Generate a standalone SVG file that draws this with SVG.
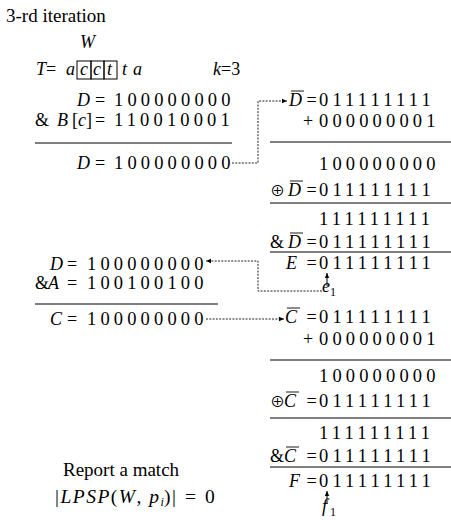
<svg xmlns="http://www.w3.org/2000/svg" width="451" height="520" viewBox="0 0 451 520">
<style>
text{font-family:"Liberation Serif","DejaVu Serif",serif;font-size:18px;fill:#000}
.i{font-style:italic}
.d{font-size:18.5px;letter-spacing:4.15px}
.s{font-size:12px}
.big{font-size:19px}
.op{font-family:"Noto Sans CJK JP","DejaVu Sans",sans-serif;font-size:15px}
.rule{stroke:#000;stroke-width:1.1}
.ov{stroke:#000;stroke-width:0.9}
.dot{fill:none;stroke:#222;stroke-width:1;stroke-dasharray:2 1.3}
.arr{fill:none;stroke:#000;stroke-width:1}
.box{fill:none;stroke:#000;stroke-width:1}
</style>
<defs>
<marker id="ah" markerWidth="6" markerHeight="6" refX="5" refY="3" orient="auto" markerUnits="userSpaceOnUse"><path d="M0,0.8 L5,3 L0,5.2z" fill="#000"/></marker>
</defs>

<g id="title"><text class="big" x="6" y="22">3-rd iteration</text></g>

<g id="header">
<text class="i" x="80" y="48">W</text>
<text x="36" y="75"><tspan class="i">T</tspan>=</text>
<text class="i" x="66" y="75">a</text>
<rect class="box" x="77" y="61" width="14" height="18"/>
<rect class="box" x="91" y="61" width="13" height="18"/>
<rect class="box" x="104" y="61" width="13" height="18"/>
<text class="i" x="80" y="75">c</text>
<text class="i" x="93" y="75">c</text>
<text class="i" x="107" y="75">t</text>
<text class="i" x="122" y="75">t</text>
<text class="i" x="133" y="75">a</text>
<text x="213" y="75"><tspan class="i">k</tspan>=3</text>
</g>

<g id="left-top">
<text x="77" y="106"><tspan class="i">D</tspan><tspan x="95">=</tspan></text>
<text class="d" x="114" y="106">100000000</text>
<text x="35" y="126">&amp;<tspan class="i" x="57">B</tspan><tspan x="72">[</tspan><tspan class="i" x="78">c</tspan><tspan x="86">]</tspan><tspan x="95">=</tspan></text>
<text class="d" x="114" y="126">110010001</text>
<line class="rule" x1="35" y1="143" x2="232" y2="143"/>
<text x="77" y="169"><tspan class="i">D</tspan><tspan x="95">=</tspan></text>
<text class="d" x="114" y="169">100000000</text>
</g>

<g id="left-mid">
<text x="50" y="270"><tspan class="i">D</tspan><tspan x="67">=</tspan></text>
<text class="d" x="87" y="270">100000000</text>
<text x="35" y="289">&amp;<tspan class="i" x="48">A</tspan><tspan x="67">=</tspan></text>
<text class="d" x="87" y="289">100100100</text>
<line class="rule" x1="35" y1="304" x2="218" y2="304"/>
<text x="50" y="325"><tspan class="i">C</tspan><tspan x="67">=</tspan></text>
<text class="d" x="87" y="325">100000000</text>
</g>

<g id="right-d">
<text x="289" y="106"><tspan class="i">D</tspan><tspan x="306.5">=</tspan></text>
<line class="ov" x1="291" y1="91" x2="304" y2="91"/>
<text class="d" x="319" y="106">011111111</text>
<text x="303" y="127">+</text>
<text class="d" x="319" y="127">000000001</text>
<line class="rule" x1="270" y1="142" x2="451" y2="142"/>
<text class="d" x="319" y="170">100000000</text>
<text x="270" y="196"><tspan class="op">⊕</tspan><tspan class="i" x="288">D</tspan><tspan x="306.5">=</tspan></text>
<line class="ov" x1="290" y1="181" x2="303" y2="181"/>
<text class="d" x="319" y="196">011111111</text>
<line class="rule" x1="270" y1="203" x2="451" y2="203"/>
<text class="d" x="319" y="225">111111111</text>
<text x="270" y="248">&amp;<tspan class="i" x="288">D</tspan><tspan x="306.5">=</tspan></text>
<line class="ov" x1="290" y1="233" x2="303" y2="233"/>
<text class="d" x="319" y="248">011111111</text>
<line class="rule" x1="270" y1="252" x2="451" y2="252"/>
<text x="286" y="269"><tspan class="i">E</tspan><tspan x="306.5">=</tspan></text>
<text class="d" x="319" y="269">011111111</text>
</g>

<g id="e1"><text class="i" x="322" y="292">e</text><text class="s" x="330" y="296">1</text></g>

<g id="right-c">
<text x="285" y="323"><tspan class="i">C</tspan><tspan x="306.5">=</tspan></text>
<line class="ov" x1="287" y1="308" x2="300" y2="308"/>
<text class="d" x="319" y="323">011111111</text>
<text x="303" y="345">+</text>
<text class="d" x="319" y="345">000000001</text>
<line class="rule" x1="270" y1="360" x2="451" y2="360"/>
<text class="d" x="319" y="382">100000000</text>
<text x="270" y="407"><tspan class="op">⊕</tspan><tspan class="i" x="284">C</tspan><tspan x="306.5">=</tspan></text>
<line class="ov" x1="286" y1="392" x2="299" y2="392"/>
<text class="d" x="319" y="407">011111111</text>
<line class="rule" x1="270" y1="418" x2="451" y2="418"/>
<text class="d" x="319" y="439">111111111</text>
<text x="270" y="462">&amp;<tspan class="i" x="284">C</tspan><tspan x="306.5">=</tspan></text>
<line class="ov" x1="286" y1="447" x2="299" y2="447"/>
<text class="d" x="319" y="462">011111111</text>
<line class="rule" x1="270" y1="467" x2="451" y2="467"/>
<text x="289" y="487"><tspan class="i">F</tspan><tspan x="306.5">=</tspan></text>
<text class="d" x="319" y="487">011111111</text>
</g>

<g id="f1"><text class="i" x="322" y="512">f</text><text class="s" x="330" y="516">1</text></g>

<g id="report">
<text class="big" x="63" y="476">Report a match</text>
<text x="55" y="503" style="font-size:19.5px;letter-spacing:1.5px">|<tspan class="i">LPSP</tspan>(<tspan class="i">W</tspan>, <tspan class="i">p</tspan><tspan class="s i" dy="3" style="letter-spacing:0">i</tspan><tspan dy="-3">)|</tspan><tspan x="185">=</tspan><tspan x="205">0</tspan></text>
</g>

<g id="connectors">
<path class="dot" d="M232,163 H258 V101 H287" marker-end="url(#ah)"/>
<path class="dot" d="M322,291 H258 V261 H206" marker-end="url(#ah)"/>
<path class="dot" d="M206,319 H284" marker-end="url(#ah)"/>
<path class="arr" d="M327,286 V273" marker-end="url(#ah)"/>
<path class="arr" d="M327,504 V491" marker-end="url(#ah)"/>
</g>
</svg>
